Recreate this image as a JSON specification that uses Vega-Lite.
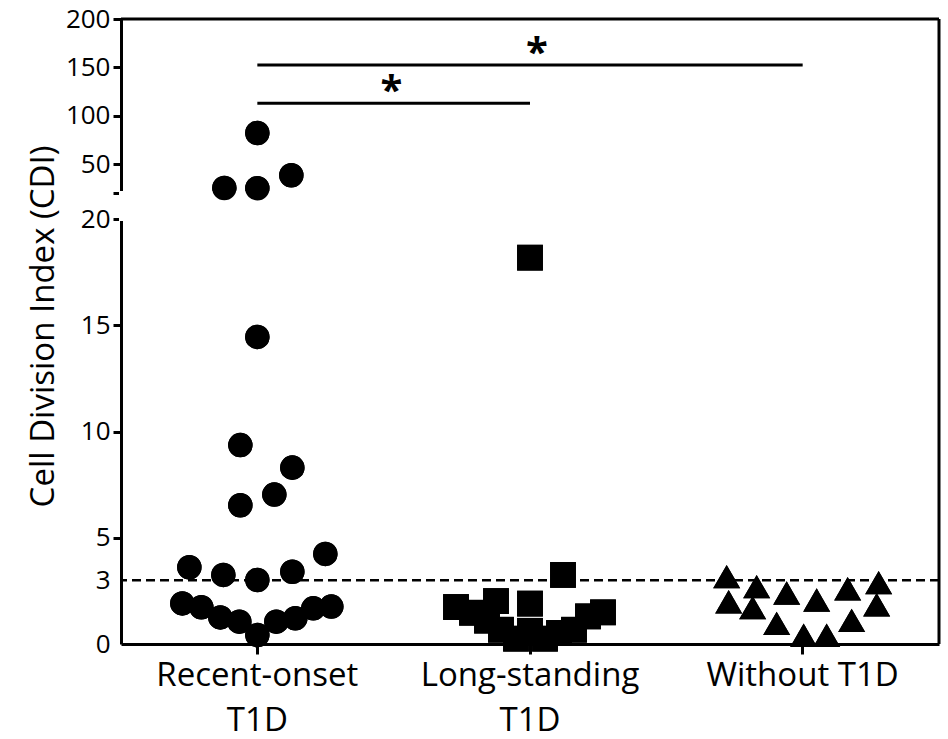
{
  "$schema": "https://vega.github.io/schema/vega-lite/v6.json",
  "autosize": "none",
  "width": 818,
  "height": 625,
  "padding": {"left": 121, "top": 19, "right": 9, "bottom": 95},
  "background": "white",
  "config": {"view": {"stroke": null}, "font": "Open Sans"},
  "datasets": {
    "points": [
      {"group": "Recent-onset T1D", "value": 82.1, "jitter": 0},
      {"group": "Recent-onset T1D", "value": 25.2, "jitter": -33},
      {"group": "Recent-onset T1D", "value": 24.9, "jitter": 0},
      {"group": "Recent-onset T1D", "value": 38.4, "jitter": 34},
      {"group": "Recent-onset T1D", "value": 14.45, "jitter": 0},
      {"group": "Recent-onset T1D", "value": 9.36, "jitter": -17},
      {"group": "Recent-onset T1D", "value": 8.3, "jitter": 35},
      {"group": "Recent-onset T1D", "value": 7.03, "jitter": 17},
      {"group": "Recent-onset T1D", "value": 6.53, "jitter": -17},
      {"group": "Recent-onset T1D", "value": 4.24, "jitter": 68},
      {"group": "Recent-onset T1D", "value": 3.61, "jitter": -68},
      {"group": "Recent-onset T1D", "value": 3.25, "jitter": -34},
      {"group": "Recent-onset T1D", "value": 3.01, "jitter": 0},
      {"group": "Recent-onset T1D", "value": 3.4, "jitter": 35},
      {"group": "Recent-onset T1D", "value": 1.91, "jitter": -75},
      {"group": "Recent-onset T1D", "value": 1.73, "jitter": -56},
      {"group": "Recent-onset T1D", "value": 1.25, "jitter": -37},
      {"group": "Recent-onset T1D", "value": 1.05, "jitter": -18},
      {"group": "Recent-onset T1D", "value": 0.42, "jitter": 0},
      {"group": "Recent-onset T1D", "value": 1.05, "jitter": 19},
      {"group": "Recent-onset T1D", "value": 1.21, "jitter": 38},
      {"group": "Recent-onset T1D", "value": 1.68, "jitter": 56},
      {"group": "Recent-onset T1D", "value": 1.76, "jitter": 74},
      {"group": "Long-standing T1D", "value": 18.18, "jitter": 0},
      {"group": "Long-standing T1D", "value": 3.25, "jitter": 33},
      {"group": "Long-standing T1D", "value": 1.9, "jitter": 0},
      {"group": "Long-standing T1D", "value": 2.02, "jitter": -34},
      {"group": "Long-standing T1D", "value": 1.74, "jitter": -74},
      {"group": "Long-standing T1D", "value": 1.47, "jitter": -58},
      {"group": "Long-standing T1D", "value": 1.1, "jitter": -43},
      {"group": "Long-standing T1D", "value": 0.67, "jitter": -29},
      {"group": "Long-standing T1D", "value": 0.62, "jitter": 0},
      {"group": "Long-standing T1D", "value": 0.25, "jitter": -14},
      {"group": "Long-standing T1D", "value": 0.25, "jitter": 15},
      {"group": "Long-standing T1D", "value": 0.52, "jitter": 29},
      {"group": "Long-standing T1D", "value": 0.67, "jitter": 44},
      {"group": "Long-standing T1D", "value": 1.3, "jitter": 58},
      {"group": "Long-standing T1D", "value": 1.49, "jitter": 73},
      {"group": "Without T1D", "value": 3.17, "jitter": -76},
      {"group": "Without T1D", "value": 1.99, "jitter": -74},
      {"group": "Without T1D", "value": 2.7, "jitter": -46},
      {"group": "Without T1D", "value": 1.71, "jitter": -50},
      {"group": "Without T1D", "value": 2.4, "jitter": -16},
      {"group": "Without T1D", "value": 0.97, "jitter": -26},
      {"group": "Without T1D", "value": 2.07, "jitter": 14},
      {"group": "Without T1D", "value": 0.41, "jitter": 1},
      {"group": "Without T1D", "value": 0.41, "jitter": 24},
      {"group": "Without T1D", "value": 2.6, "jitter": 45},
      {"group": "Without T1D", "value": 1.11, "jitter": 49},
      {"group": "Without T1D", "value": 2.89, "jitter": 76},
      {"group": "Without T1D", "value": 1.85, "jitter": 74}
    ],
    "brackets": [
      {"id": "a", "group": "Recent-onset T1D", "value": 152.5},
      {"id": "a", "group": "Without T1D", "value": 152.5},
      {"id": "b", "group": "Recent-onset T1D", "value": 112.9},
      {"id": "b", "group": "Long-standing T1D", "value": 112.9}
    ],
    "stars": [
      {"group": "Long-standing T1D", "value": 173, "jitter": 7, "label": "*"},
      {"group": "Recent-onset T1D", "value": 134, "jitter": 134, "label": "*"}
    ]
  },
  "layer": [
    {
      "data": {"name": "points"},
      "mark": {"type": "point", "filled": true, "opacity": 1, "color": "black"},
      "encoding": {
        "x": {
          "field": "group", "type": "nominal",
          "scale": {"domain": ["Recent-onset T1D", "Long-standing T1D", "Without T1D"], "paddingInner": 0, "paddingOuter": 0},
          "axis": {
            "title": null, "labelAngle": 0, "labelFontSize": 33, "labelLineHeight": 45,
            "labelExpr": "datum.value == 'Without T1D' ? datum.value : split(datum.value, ' ')",
            "labelLimit": 600,
            "tickSize": 10, "tickWidth": 3, "domainWidth": 3, "labelPadding": 5,
            "labelColor": "black", "domainColor": "black", "tickColor": "black", "labelFont": "Open Sans"
          }
        },
        "xOffset": {"field": "jitter", "type": "quantitative", "scale": {"domain": [-136.35, 136.35]}},
        "y": {
          "field": "value", "type": "quantitative",
          "scale": {"domain": [0, 20, 20.001, 200], "range": [625, 200, 174, 0], "nice": false, "zero": false},
          "axis": {
            "title": "Cell Division Index (CDI)",
            "values": [0, 3, 5, 10, 15, 20, 20.001, 50, 100, 150, 200],
            "labelExpr": "datum.value == 20.001 ? '' : datum.label",
            "labelFontSize": 26, "labelFont": "Open Sans", "labelColor": "black",
            "tickSize": 8, "tickWidth": 3, "domainWidth": 3, "labelPadding": 3,
            "tickColor": "black", "domainColor": "black", "grid": false,
            "labelOverlap": false, "labelFlush": false,
            "tickOpacity": {"condition": {"test": "datum.value == 3 || datum.value == 0", "value": 0}, "value": 1},
            "titleFontSize": 33, "titleFont": "Open Sans", "titleFontWeight": "normal", "titleColor": "black",
            "titleX": -68, "titleY": 307, "titleBaseline": "alphabetic", "titleAlign": "center"
          }
        },
        "shape": {"field": "group", "type": "nominal", "scale": {"domain": ["Recent-onset T1D", "Long-standing T1D", "Without T1D"], "range": ["circle", "square", "triangle-up"]}, "legend": null},
        "size": {"field": "group", "type": "nominal", "scale": {"domain": ["Recent-onset T1D", "Long-standing T1D", "Without T1D"], "range": [600, 729, 540]}, "legend": null}
      }
    },
    {
      "data": {"values": [{}]},
      "mark": {"type": "rect", "fill": "white", "stroke": "white", "strokeWidth": 4},
      "encoding": {"y": {"datum": 20}, "y2": {"datum": 20.001}}
    },
    {
      "data": {"values": [{}]},
      "mark": {"type": "rule", "color": "black", "strokeWidth": 2.5, "strokeDash": [9, 5]},
      "encoding": {"y": {"datum": 3}}
    },
    {
      "data": {"values": [{}]},
      "mark": {"type": "rule", "color": "black", "strokeWidth": 3},
      "encoding": {"y": {"datum": 200}}
    },
    {
      "data": {"values": [{}]},
      "mark": {"type": "rule", "color": "black", "strokeWidth": 3},
      "encoding": {"x": {"datum": "Without T1D", "bandPosition": 1}}
    },
    {
      "data": {"name": "brackets"},
      "mark": {"type": "line", "color": "black", "strokeWidth": 3},
      "encoding": {
        "x": {"field": "group", "type": "nominal"},
        "y": {"field": "value", "type": "quantitative"},
        "detail": {"field": "id"}
      }
    },
    {
      "data": {"name": "stars"},
      "mark": {"type": "text", "fontSize": 40, "fontWeight": "bold", "font": "Open Sans", "color": "black", "baseline": "middle", "dy": 9},
      "encoding": {
        "x": {"field": "group", "type": "nominal"},
        "xOffset": {"field": "jitter", "type": "quantitative"},
        "y": {"field": "value", "type": "quantitative"},
        "text": {"field": "label"}
      }
    },
    {
      "data": {"name": "points"},
      "mark": {"type": "point", "filled": true, "opacity": 1, "color": "black"},
      "encoding": {
        "x": {"field": "group", "type": "nominal"},
        "xOffset": {"field": "jitter", "type": "quantitative"},
        "y": {"field": "value", "type": "quantitative"},
        "shape": {"field": "group", "type": "nominal"},
        "size": {"field": "group", "type": "nominal"}
      }
    }
  ]
}
